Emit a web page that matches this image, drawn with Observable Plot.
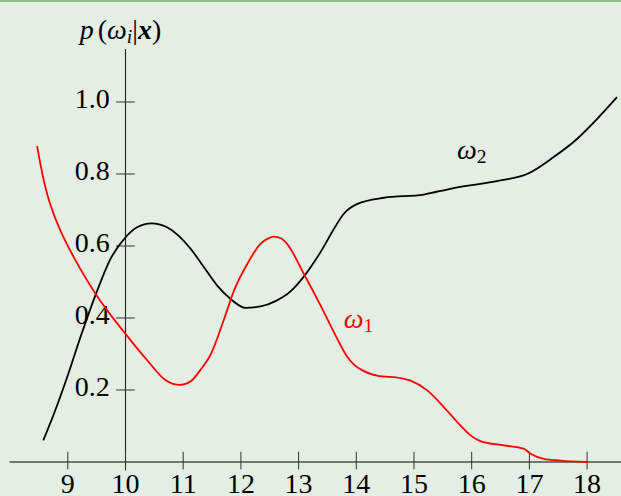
<!DOCTYPE html>
<html><head><meta charset="utf-8">
<script src="https://cdn.jsdelivr.net/npm/d3@7"></script>
<script src="https://cdn.jsdelivr.net/npm/@observablehq/plot@0.6"></script>
<style>
html,body{margin:0;padding:0;background:#e4eee4;}
#wrap{position:relative;width:621px;height:496px;overflow:hidden;background:#e4eee4}
#topline{position:absolute;left:0;top:0;width:621px;height:2px;background:#8dbb88}
#wrap svg{position:absolute;left:0;top:0}
</style></head><body><div id="wrap"><div id="topline"></div></div>
<script>
// tick values and labels
const xTicks = [9, 10, 11, 12, 13, 14, 15, 16, 17, 18];
const yTicks = [0.2, 0.4, 0.6, 0.8, 1.0];
const yTickLabels = ["0.2", "0.4", "0.6", "0.8", "1.0"];

// omega_2 (black) posterior
const omega2X = [8.58, 8.76, 8.99, 9.22, 9.51, 9.74, 10.0, 10.2, 10.45, 10.72, 11.13, 11.36, 11.59, 11.82, 12.08, 12.34, 12.6, 12.86, 13.09, 13.38, 13.64, 13.78, 14.02, 14.48, 15.17, 15.63, 16.5, 16.96, 17.42, 17.83, 18.15, 18.51];
const omega2Y = [0.062, 0.134, 0.236, 0.347, 0.476, 0.564, 0.624, 0.652, 0.663, 0.652, 0.592, 0.541, 0.49, 0.453, 0.428, 0.432, 0.447, 0.474, 0.515, 0.583, 0.655, 0.689, 0.717, 0.734, 0.743, 0.759, 0.782, 0.8, 0.847, 0.898, 0.949, 1.012];

// omega_1 (red) posterior
const omega1X = [8.47, 8.527, 8.597, 8.666, 8.757, 8.873, 9.104, 9.48, 10.0, 10.38, 10.69, 10.95, 11.13, 11.3, 11.48, 11.7, 11.88, 12.11, 12.34, 12.45, 12.57, 12.7, 12.8, 13.09, 13.38, 13.67, 13.84, 13.95, 14.07, 14.36, 14.77, 14.94, 15.23, 15.52, 15.75, 15.98, 16.15, 16.56, 16.9, 17.02, 17.25, 17.54, 18.0];
const omega1Y = [0.876, 0.826, 0.773, 0.731, 0.688, 0.643, 0.569, 0.4675, 0.356, 0.282, 0.228, 0.214, 0.224, 0.256, 0.3, 0.393, 0.476, 0.55, 0.606, 0.619, 0.626, 0.621, 0.606, 0.523, 0.435, 0.342, 0.293, 0.272, 0.258, 0.24, 0.233, 0.226, 0.199, 0.152, 0.111, 0.074, 0.058, 0.046, 0.037, 0.023, 0.009, 0.004, 0.0];

// curve labels
const labelNames = ["ω1", "ω2"];
const labelX = [14.04, 16.0];
const labelY = [0.397, 0.867];
const labelColors = ["#ff0000", "#000000"];

const omega1 = omega1X.map((x, i) => ({x, y: omega1Y[i]}));
const omega2 = omega2X.map((x, i) => ({x, y: omega2Y[i]}));
const labels = labelNames.map((t, i) => ({t, x: labelX[i], y: labelY[i], c: labelColors[i]}));

const FONT = "'Liberation Serif', 'DejaVu Serif', serif";

const svg = Plot.plot({
  width: 621, height: 496,
  margin: 0,
  style: {background: "transparent", fontFamily: FONT, overflow: "visible"},
  x: {domain: [10, 18], range: [125, 586.6], axis: null},
  y: {domain: [0, 1], range: [461.5, 101.5], axis: null},
  marks: [
    Plot.ruleY([0], {x1: 8.0, x2: 18.65, stroke: "#000", strokeWidth: 1.1}),
    Plot.ruleX([10], {y1: -0.024, y2: 1.146, stroke: "#222", strokeWidth: 1.1}),
    Plot.ruleX(xTicks, {x: d => d, y1: -0.022, y2: 0.027, stroke: "#333", strokeWidth: 1}),
    Plot.ruleY(yTicks, {y: d => d, x1: 9.845, x2: 10.17, stroke: "#333", strokeWidth: 1}),
    Plot.text(xTicks, {x: d => d, y: 0, dy: 22, text: d => String(d), fontSize: 28, lineAnchor: "middle", fill: "#000"}),
    Plot.text(yTicks, {x: 10, y: d => d, dx: -15.7, dy: -2.5, text: (d, i) => yTickLabels[i], textAnchor: "end", fontSize: 28, lineAnchor: "middle", fill: "#000"}),
    Plot.line(omega2, {x: "x", y: "y", curve: "monotone-x", stroke: "#000", strokeWidth: 1.8}),
    Plot.line(omega1, {x: "x", y: "y", curve: "monotone-x", stroke: "#ff0000", strokeWidth: 1.8}),
    Plot.text(labels, {x: "x", y: "y", text: "t", fill: "c", fontSize: 28, lineAnchor: "middle"}),
    Plot.text(["p(ωi|x)"], {x: 10, y: 1.146, dy: -19, dx: -5, text: d => d, fontSize: 28, lineAnchor: "middle", fill: "#000"})
  ]
});
document.getElementById("wrap").appendChild(svg);

// rich math formatting of the text labels
d3.select(svg).selectAll("text").each(function () {
  const el = d3.select(this);
  const s = el.text();
  const m = /^ω(\d)$/.exec(s);
  if (m) {
    el.text(null);
    el.append("tspan").attr("font-style", "italic").text("ω");
    el.append("tspan").attr("font-size", "0.7em").attr("dy", "4").text(m[1]);
  } else if (s === "p(ωi|x)") {
    el.text(null);
    el.append("tspan").attr("font-style", "italic").text("p");
    el.append("tspan").attr("dx", "4").text("(");
    el.append("tspan").attr("font-style", "italic").text("ω");
    el.append("tspan").attr("font-style", "italic").attr("font-size", "0.7em").attr("dy", "4").text("i");
    el.append("tspan").attr("dy", "-4").text("|");
    el.append("tspan").attr("font-style", "italic").attr("font-weight", "bold").text("x");
    el.append("tspan").text(")");
  }
});
</script>
</body></html>
